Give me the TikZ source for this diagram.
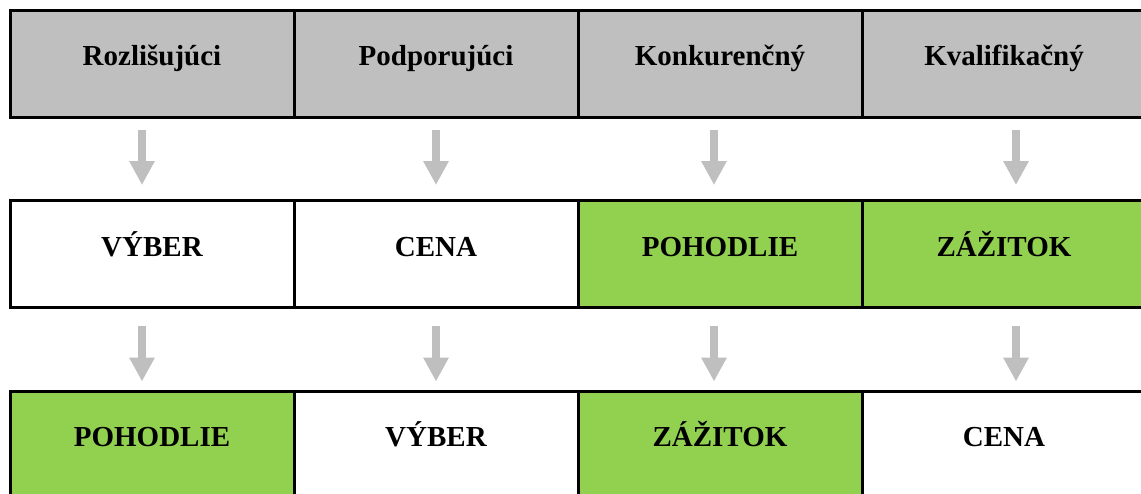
\documentclass[tikz,border=0pt]{standalone}
\usepackage{fontspec}
\setmainfont{Liberation Serif}
\usetikzlibrary{arrows.meta}
\definecolor{hdr}{HTML}{BFBFBF}
\definecolor{grn}{HTML}{92D050}
\definecolor{arrg}{HTML}{BFBFBF}
\begin{document}
\begin{tikzpicture}[x=1pt,y=-1pt,
  cell/.style={draw=black, line width=3pt, minimum width=284pt, minimum height=107pt,
    inner sep=0pt, font=\fontsize{29}{34}\selectfont\bfseries, text height=20pt, text depth=16pt},
  head/.style={cell, fill=hdr},
  plain/.style={cell, fill=white},
  green/.style={cell, fill=grn},
  blockarrow/.style={draw=arrg, line width=7.5pt, line cap=butt,
    -{Triangle[length=24pt,width=24pt]}}]
\useasboundingbox (0,0) rectangle (1141,493);
\clip (0,0) rectangle (1141,493);
% top row
\node[head]  (t1) at (152,63.5) {Rozlišujúci};
\node[head]  (t2) at (436,63.5) {Podporujúci};
\node[head]  (t3) at (720,63.5) {Konkurenčný};
\node[head]  (t4) at (1004,63.5) {Kvalifikačný};
% middle row
\node[plain] (m1) at (152,254) {VÝBER};
\node[plain] (m2) at (436,254) {CENA};
\node[green] (m3) at (720,254) {POHODLIE};
\node[green] (m4) at (1004,254) {ZÁŽITOK};
% bottom row
\node[green] (b1) at (152,444.5) {POHODLIE};
\node[plain] (b2) at (436,444.5) {VÝBER};
\node[green] (b3) at (720,444.5) {ZÁŽITOK};
\node[plain] (b4) at (1004,444.5) {CENA};
% arrows top -> middle
\draw[blockarrow] ([xshift=-10pt,yshift=-11pt]t1.south) -- ([xshift=-10pt,yshift=14pt]m1.north);
\draw[blockarrow] ([xshift=0pt,yshift=-11pt]t2.south) -- ([xshift=0pt,yshift=14pt]m2.north);
\draw[blockarrow] ([xshift=-6pt,yshift=-11pt]t3.south) -- ([xshift=-6pt,yshift=14pt]m3.north);
\draw[blockarrow] ([xshift=12pt,yshift=-11pt]t4.south) -- ([xshift=12pt,yshift=14pt]m4.north);
% arrows middle -> bottom
\draw[blockarrow] ([xshift=-10pt,yshift=-17pt]m1.south) -- ([xshift=-10pt,yshift=8pt]b1.north);
\draw[blockarrow] ([xshift=0pt,yshift=-17pt]m2.south) -- ([xshift=0pt,yshift=8pt]b2.north);
\draw[blockarrow] ([xshift=-6pt,yshift=-17pt]m3.south) -- ([xshift=-6pt,yshift=8pt]b3.north);
\draw[blockarrow] ([xshift=12pt,yshift=-17pt]m4.south) -- ([xshift=12pt,yshift=8pt]b4.north);
\end{tikzpicture}
\end{document}
